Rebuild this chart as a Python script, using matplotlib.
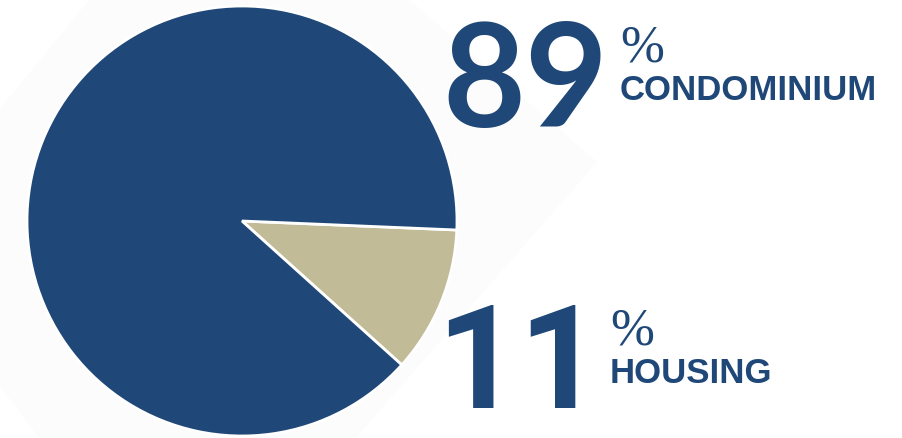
import matplotlib

matplotlib.use("Agg")
import matplotlib.pyplot as plt
from matplotlib.patches import Polygon

# data
labels = ["HOUSING", "CONDOMINIUM"]
shares = [11, 89]
big_numbers = ["11", "89"]
colors = ["#C1BB97", "#1F4878"]
blue = "#1F4878"

W, H = 902, 439
fig = plt.figure(figsize=(W / 100, H / 100), dpi=100)

# faint rotated square in the background (pixel coordinates)
bg = fig.add_axes([0, 0, 1, 1])
bg.set_xlim(0, W)
bg.set_ylim(H, 0)
bg.axis("off")
bg.add_patch(Polygon([(222, -161), (597, 163), (186, 633), (-109, 243)],
                     closed=True, facecolor="#FCFCFC", edgecolor="none"))

# pie: centre (242, 222), radius 215 px
cx, cy, r = 242, 222, 215
ax = fig.add_axes([(cx - r) / W, (H - cy - r) / H, 2 * r / W, 2 * r / H])
ax.pie(shares, colors=colors, startangle=-42.0, counterclock=True,
       wedgeprops=dict(edgecolor="white", linewidth=2))
ax.set_xlim(-1, 1)
ax.set_ylim(-1, 1)
ax.axis("off")


def px(x, y):
    return x / W, 1 - y / H


# top block: 89 % CONDOMINIUM
fig.text(*px(442, 127), big_numbers[1], fontsize=103, fontweight="bold",
         family="Lato", color=blue, va="baseline", ha="left")
fig.text(*px(620, 62), "%", fontsize=38, family="Liberation Serif",
         color=blue, va="baseline", ha="left")
fig.text(*px(620, 100), labels[1], fontsize=25, fontweight="bold",
         family="Liberation Sans", color=blue, va="baseline", ha="left")

# bottom block: 11 % HOUSING
fig.text(*px(436, 408), big_numbers[0], fontsize=104, fontweight="bold",
         family="Roboto", color=blue, va="baseline", ha="left")
fig.text(*px(610, 345), "%", fontsize=38, family="Liberation Serif",
         color=blue, va="baseline", ha="left")
fig.text(*px(610, 383), labels[0], fontsize=25, fontweight="bold",
         family="Liberation Sans", color=blue, va="baseline", ha="left")

fig.savefig("out.png", dpi=100, facecolor="white")
